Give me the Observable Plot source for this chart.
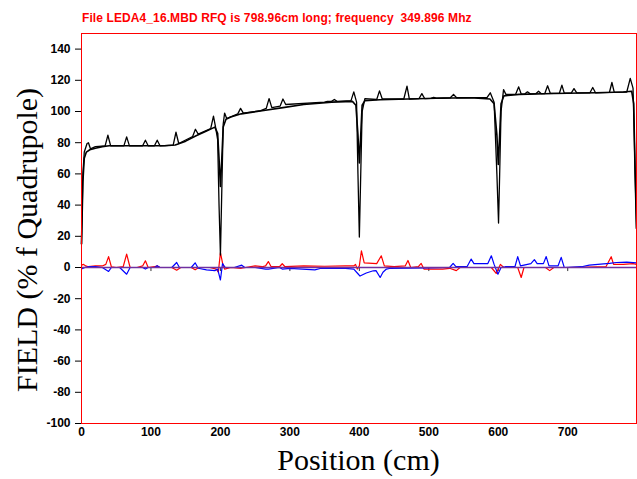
<!DOCTYPE html>
<html><head><meta charset="utf-8">
<script src="https://cdn.jsdelivr.net/npm/d3@7"></script>
<script src="https://cdn.jsdelivr.net/npm/@observablehq/plot@0.6"></script>
<style>
body{margin:0;background:#fff;}
#wrap{position:relative;width:637px;height:479px;overflow:hidden;background:#fff;}
#wrap svg{position:absolute;left:0;top:0;}
#title{position:absolute;left:82px;top:11px;font:bold 12px "Liberation Sans",Arial,sans-serif;line-height:14px;letter-spacing:0.1px;color:#ff0000;white-space:pre;z-index:2;}
#xlabel{position:absolute;left:81px;width:555px;top:445px;text-align:center;font:30px "Liberation Serif","Times New Roman",serif;line-height:30px;color:#000;z-index:2;}
#ylabel{position:absolute;left:27px;top:240px;width:420px;text-align:center;font:30px "Liberation Serif","Times New Roman",serif;line-height:30px;color:#000;transform:translate(-50%,-50%) rotate(-90deg);white-space:nowrap;z-index:2;}
</style></head>
<body>
<div id="wrap">
<div id="title">File LEDA4_16.MBD RFQ is 798.96cm long; frequency  349.896 Mhz</div>
<div id="ylabel">FIELD (% f Quadrupole)</div>
<div id="xlabel">Position (cm)</div>
</div>
<script>
const xTicks = [0, 100, 200, 300, 400, 500, 600, 700];
const yTicks = [-100, -80, -60, -40, -20, 0, 20, 40, 60, 80, 100, 120, 140];

// smooth quadrupole field (black)
const blackSmooth = [
[0,15],[2,55],[4,70],[7,74],[12,75.5],[20,76.5],[30,77.5],[40,78],[80,78],[120,78],[135,78.5],
[150,81],[165,84.5],[180,87.5],[192,90],[196,86],[198,70],[200,52],[202,70],[204,90],[208,95],
[215,96.5],[230,98.5],[260,100.5],[290,102.5],[320,104.5],[360,106],[390,106.5],[395,104],
[398,85],[400,67],[402,85],[404,104],[408,107],[430,107.5],[470,108],[510,108.5],[560,108.8],
[588,108],[594,105],[598,85],[600,66],[602,85],[604,105],[608,110],[630,111],[680,111.5],
[740,112],[780,112.5],[792,113],[795,105],[797,60],[799,25]
];

// measured quadrupole field with bead bumps (black)
const blackBumpy = [
[0,15],[2,60],[4,74],[8,79.5],[10,80],[13,76],[20,77.5],[34,78],[38,84.8],[42,78],[61,78],
[65,83.7],[69,78],[88,78],[92,81.6],[96,78],[105,78],[109,81.6],[113,78],[132,78.5],[136,86.7],
[140,79.5],[160,84],[164,88.6],[168,85.5],[186,89],[190,97],[193,90],[196,82],[198,40],[200,8],
[202,50],[204,92],[206,99],[209,95.5],[225,98.5],[229,102],[233,99],[258,100.5],[266,102],
[270,108.3],[274,102.5],[286,103.5],[290,108],[294,104.5],[350,106],[354,106.5],[360,106.5],
[364,107.7],[368,106.5],[388,107],[392,112.6],[396,106],[398,60],[400,19.5],[402,60],[404,100],
[408,108.3],[425,107.7],[429,113.2],[433,108],[464,108],[468.6,116.2],[472,108],[486,108.3],
[490,111.5],[494,108.3],[503,108.4],[507,109],[511,108.5],[531,108.8],[535.6,111],[540,108.8],
[584,109],[588.5,112],[594,106],[598,60],[600.4,28.5],[602,60],[604,100],[607.6,114],[611,111],
[625,111],[629.4,115.8],[633,111.2],[638,111.2],[642,112.6],[646,111.3],[654,111.4],[658,113],
[662,111.4],[667,111.5],[671,116.5],[675,111.6],[688,111.7],[691.6,116.9],[695,111.8],[705,111.8],
[709,114.7],[713,111.9],[732,112],[736,115.4],[740,112],[760,112.2],[763.6,118.6],[767,112.3],
[785,112.5],[790,121.2],[794,115],[796,80],[799,25]
];

// dipole component 1 (red)
const redDipole = [
[0,1.5],[3,2],[6,1],[10,0.5],[20,1],[30,1],[35,2],[39,7],[43,0.5],[50,0],[60,0.5],[65,8.6],[70,0],
[80,0],[88,1],[92,4.3],[96,0],[105,0.5],[109,1],[113,0],[130,0],[137,-1.7],[143,0],[158,0],
[163.6,-1.5],[169,0],[185,0],[194,-1],[197,-3],[200,9.6],[203,3],[206,-1],[215,0],[230,-0.5],
[250,1],[260,0.5],[265,1],[269,3.8],[273,0.5],[285,0.5],[289,2.4],[293,0.5],[320,1],[350,0.8],
[380,1],[392,1],[394.5,2],[397,-1],[400,1],[403,10.7],[407,3],[425,2.5],[431.6,7.5],[436,1],
[450,0.5],[466,1],[470,4.5],[474,0],[485,0.5],[489,2.6],[493,-1],[520,-1],[530,-0.5],[539.6,-2],
[545,0],[590,0],[597,-3.8],[603,2],[608,0],[628,0],[633,-6.4],[637,0],[668,0],[674,-2],[680,0],
[700,0],[755,0.5],[762.6,6.9],[766,2],[780,2],[794,2.5],[799,2]
];

// dipole component 2 (blue)
const blueDipole = [
[0,-1],[5,0],[10,0.5],[20,0.5],[30,0],[39,-2.5],[43,0],[55,0],[65,-4.3],[70,0],[88,0],[92,-1],
[96,0],[105,0],[109,1.2],[113,0],[130,0],[137,3.2],[141,0],[158,0],[163.6,3],[168,-0.5],[180,-1.5],
[192,-2],[196,-1],[200,-8],[203,2.5],[207,0],[220,0],[230.7,1.5],[235,0],[250,0],[265,-1],[269,-1],
[285,0],[289,-1],[300,-0.5],[336,-1.5],[345,-0.5],[380,-0.5],[392,-1],[398,-4],[401,-5.5],
[410,-3.5],[420,-2.1],[424,-2],[430,-6.4],[434,-3],[439,-1],[445,-0.5],[500,-0.3],[530,0],
[535,2.6],[539,0.5],[555,0.5],[561,5.4],[565,2.5],[585,2.5],[590,7.5],[594,2],[599.5,-4.3],
[604,0],[610,0.5],[624,0.5],[628,7],[632,1],[647,2.5],[652,5],[656,2.5],[665,2.5],[669,7],
[673,1],[686,1],[690.6,6.5],[695,0],[720,0.5],[731,1.5],[760,2.6],[770,3.2],[785,3.5],[799,3]
];

const zeroLine = [0];

const chart = Plot.plot({
  width: 637,
  height: 479,
  marginLeft: 81,
  marginRight: 1,
  marginTop: 33,
  marginBottom: 56,
  style: {fontFamily: "'Liberation Sans', Arial, sans-serif", fontSize: "12px", color: "black", background: "white", overflow: "visible"},
  x: {domain: [0, 799]},
  y: {domain: [-100, 150]},
  marks: [
    Plot.axisY({ticks: yTicks, tickSize: 6, tickPadding: 5, fontWeight: "bold", fontSize: 12, tickFormat: d => String(d), label: null}),
    Plot.axisX({ticks: xTicks, tickSize: 0, tickPadding: 4, fontWeight: "bold", fontSize: 12, tickFormat: d => String(d), label: null}),
    Plot.ruleX(xTicks, {y1: 0, y2: -2.6, stroke: "#333", strokeWidth: 1}),
    Plot.line(redDipole, {x: d => d[0], y: d => d[1], stroke: "#ff0000", strokeWidth: 1.2}),
    Plot.line(blueDipole, {x: d => d[0], y: d => d[1], stroke: "#0000ff", strokeWidth: 1.2}),
    Plot.ruleY(zeroLine, {stroke: "#7030a0", strokeWidth: 1.6}),
    Plot.line(blackSmooth, {x: d => d[0], y: d => d[1], stroke: "#000", strokeWidth: 1.6}),
    Plot.line(blackBumpy, {x: d => d[0], y: d => d[1], stroke: "#000", strokeWidth: 1.3}),
    Plot.frame({stroke: "#ff0000", strokeWidth: 1})
  ]
});
document.getElementById("wrap").prepend(chart);
</script>
</body></html>
